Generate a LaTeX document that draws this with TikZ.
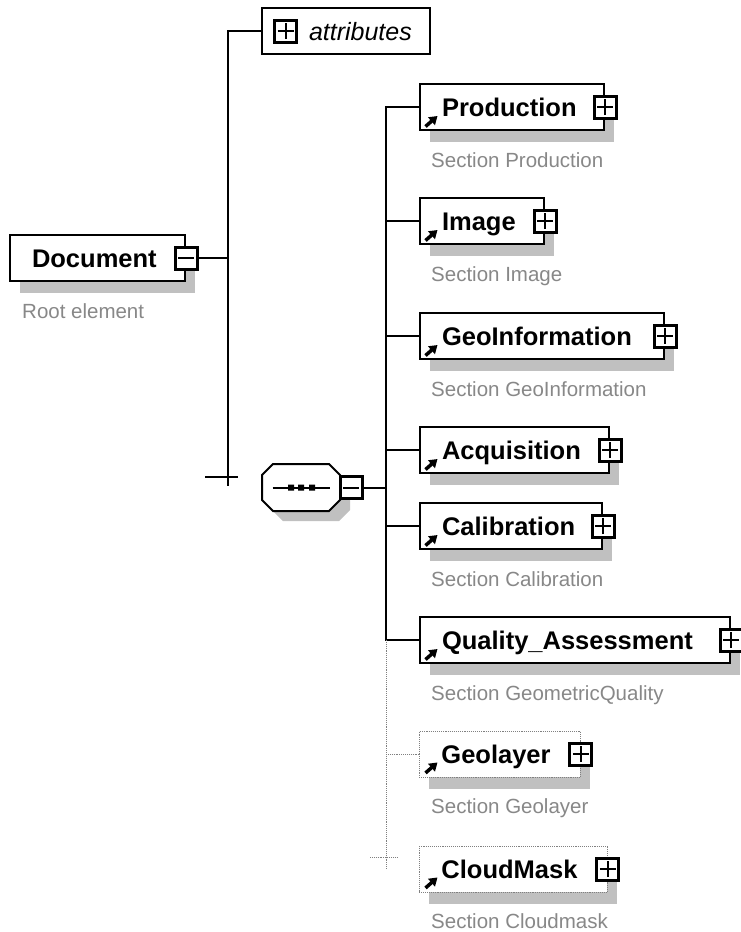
\documentclass[tikz,border=0pt]{standalone}
\usepackage{fontspec}
\setmainfont{Liberation Sans}
\usetikzlibrary{shadows,arrows.meta}
\definecolor{shadowgray}{RGB}{192,192,192}
\definecolor{notegray}{RGB}{136,136,136}
\begin{document}
\begin{tikzpicture}[x=1pt,y=-1pt,
  rootelem/.style={draw,line width=2pt,fill=white,anchor=west,minimum height=46pt,
    inner xsep=22pt,inner ysep=0pt,align=left,text height=18pt,text depth=0pt,
    font=\fontsize{25.5}{30}\selectfont\bfseries,
    drop shadow={shadow xshift=10pt,shadow yshift=-12pt,fill=shadowgray,opacity=1}},
  refarrow/.style={draw=black,solid,line width=3.5pt,-{Triangle[length=8pt,width=10pt]}},
  elem/.style={rootelem,
    append after command={([shift={(6.5pt,4.5pt)}]\tikzlastnode.south west)
      edge[refarrow] ([shift={(18.5pt,15pt)}]\tikzlastnode.south west)}},
  optelem/.style={elem,draw=gray,line width=0.9pt,densely dotted},
  crossline/.style={draw=black,solid,line width=2pt},
  plusbox/.style={fill=white,minimum size=22pt,inner sep=0pt,
    postaction={draw,solid,line width=3pt},
    append after command={([xshift=-8pt]\tikzlastnode.center) edge[crossline] ([xshift=8pt]\tikzlastnode.center)
      ([yshift=-8pt]\tikzlastnode.center) edge[crossline] ([yshift=8pt]\tikzlastnode.center)}},
  minusbox/.style={fill=white,minimum size=22pt,inner sep=0pt,
    postaction={draw,solid,line width=3pt},
    append after command={([xshift=-8pt]\tikzlastnode.center) edge[crossline] ([xshift=8pt]\tikzlastnode.center)}},
  attrbox/.style={draw,line width=2pt,fill=white,anchor=west,minimum height=46pt,
    inner xsep=0pt,inner ysep=0pt,text width=168pt,align=left,text height=18pt,text depth=0pt,
    font=\fontsize{25}{30}\selectfont\itshape},
  seqbox/.style={minimum width=78pt,minimum height=47pt,inner sep=0pt,outer sep=0pt},
  seqline/.style={draw,line width=2pt,fill=white,line join=miter,
    drop shadow={shadow xshift=10pt,shadow yshift=-10pt,fill=shadowgray,opacity=1}},
  note/.style={anchor=west,inner sep=0pt,text=notegray,font=\fontsize{20.5}{24}\selectfont,
    text height=14.7pt,text depth=0pt},
  conn/.style={line width=2pt},
  optconn/.style={gray,line width=0.9pt,densely dotted}]
\path[use as bounding box,fill=white] (0,0) rectangle (740,932);

% root element
\node[rootelem,text width=131pt] (doc) at (9,258) {Document};
\node[minusbox] (docx) at (doc.east) {};
\node[note] at ([xshift=13pt,yshift=-29pt]doc.south west) {Root element};

% attributes and sequence
\node[attrbox] (attr) at (261,31) {\noindent\hspace*{47pt}attributes};
\node[plusbox] (attrx) at ([xshift=24.5pt]attr.west) {};
\node[seqbox] (seq) at (301,487.5) {};
\path[seqline] ([xshift=11pt]seq.north west) -- ([xshift=-11pt]seq.north east)
  -- ([yshift=-11pt]seq.north east) -- ([yshift=11pt]seq.south east)
  -- ([xshift=-11pt]seq.south east) -- ([xshift=11pt]seq.south west)
  -- ([yshift=11pt]seq.south west) -- ([yshift=-11pt]seq.north west) -- cycle;
\draw[line width=2pt] ([xshift=-28.5pt]seq.center) -- ([xshift=28.5pt]seq.center);
\fill ([xshift=-10pt]seq.center) +(-3pt,-3pt) rectangle +(3pt,3pt)
      (seq.center) +(-3pt,-3pt) rectangle +(3pt,3pt)
      ([xshift=11pt]seq.center) +(-3pt,-3pt) rectangle +(3pt,3pt);
\node[minusbox,anchor=west] (seqx) at (seq.east) {};

% children
\node[elem,text width=140pt] (prod) at (419,107) {Production};
\node[plusbox] (prodx) at (prod.east) {};
\node[note] at ([xshift=12pt,yshift=-29pt]prod.south west) {Section Production};

\node[elem,text width=80pt] (img) at (419,221) {Image};
\node[plusbox] (imgx) at (img.east) {};
\node[note] at ([xshift=12pt,yshift=-29pt]img.south west) {Section Image};

\node[elem,text width=200pt] (geoinfo) at (419,336) {GeoInformation};
\node[plusbox] (geoinfox) at (geoinfo.east) {};
\node[note] at ([xshift=12pt,yshift=-29pt]geoinfo.south west) {Section GeoInformation};

\node[elem,text width=145pt] (acq) at (419,450) {Acquisition};
\node[plusbox] (acqx) at (acq.east) {};

\node[elem,text width=138pt] (cal) at (419,526) {Calibration};
\node[plusbox] (calx) at (cal.east) {};
\node[note] at ([xshift=12pt,yshift=-29pt]cal.south west) {Section Calibration};

\node[elem,text width=266pt] (qual) at (419,640) {Quality\_Assessment};
\node[plusbox] (qualx) at (qual.east) {};
\node[note] at ([xshift=12pt,yshift=-29pt]qual.south west) {Section GeometricQuality};

\node[optelem,text width=117pt] (geol) at (419,754) {Geolayer};
\node[plusbox] (geolx) at (geol.east) {};
\node[note] at ([xshift=12pt,yshift=-29pt]geol.south west) {Section Geolayer};

\node[optelem,text width=144pt] (cloud) at (419,869) {CloudMask};
\node[plusbox] (cloudx) at (cloud.east) {};
\node[note] at ([xshift=12pt,yshift=-29pt]cloud.south west) {Section Cloudmask};

% connectors
\coordinate (lbus) at (228,258);
\coordinate (ltick) at (228,477);
\draw[conn] (docx.east) -- (lbus);
\draw[conn] (attr.west) -- (attr.west -| lbus) -- ([yshift=-9pt]ltick);
\draw[conn] ([xshift=-23pt]ltick) -- ([xshift=10pt]ltick);

\coordinate (rbus) at (386,488);
\coordinate (rtick) at (386,857);
\draw[conn] (seqx.east) -- (seqx.east -| rbus);
\draw[conn] (prod.west) -- (prod.west -| rbus) -- (qual.west -| rbus) -- (qual.west);
\draw[conn] (img.west -| rbus) -- (img.west);
\draw[conn] (geoinfo.west -| rbus) -- (geoinfo.west);
\draw[conn] (acq.west -| rbus) -- (acq.west);
\draw[conn] (cal.west -| rbus) -- (cal.west);
\draw[optconn] (qual.west -| rbus) -- (cloud.west -| rbus);
\draw[optconn] (geol.west -| rbus) -- (geol.west);
\draw[optconn] ([xshift=-16pt]rtick) -- ([xshift=11pt]rtick);
\end{tikzpicture}
\end{document}
